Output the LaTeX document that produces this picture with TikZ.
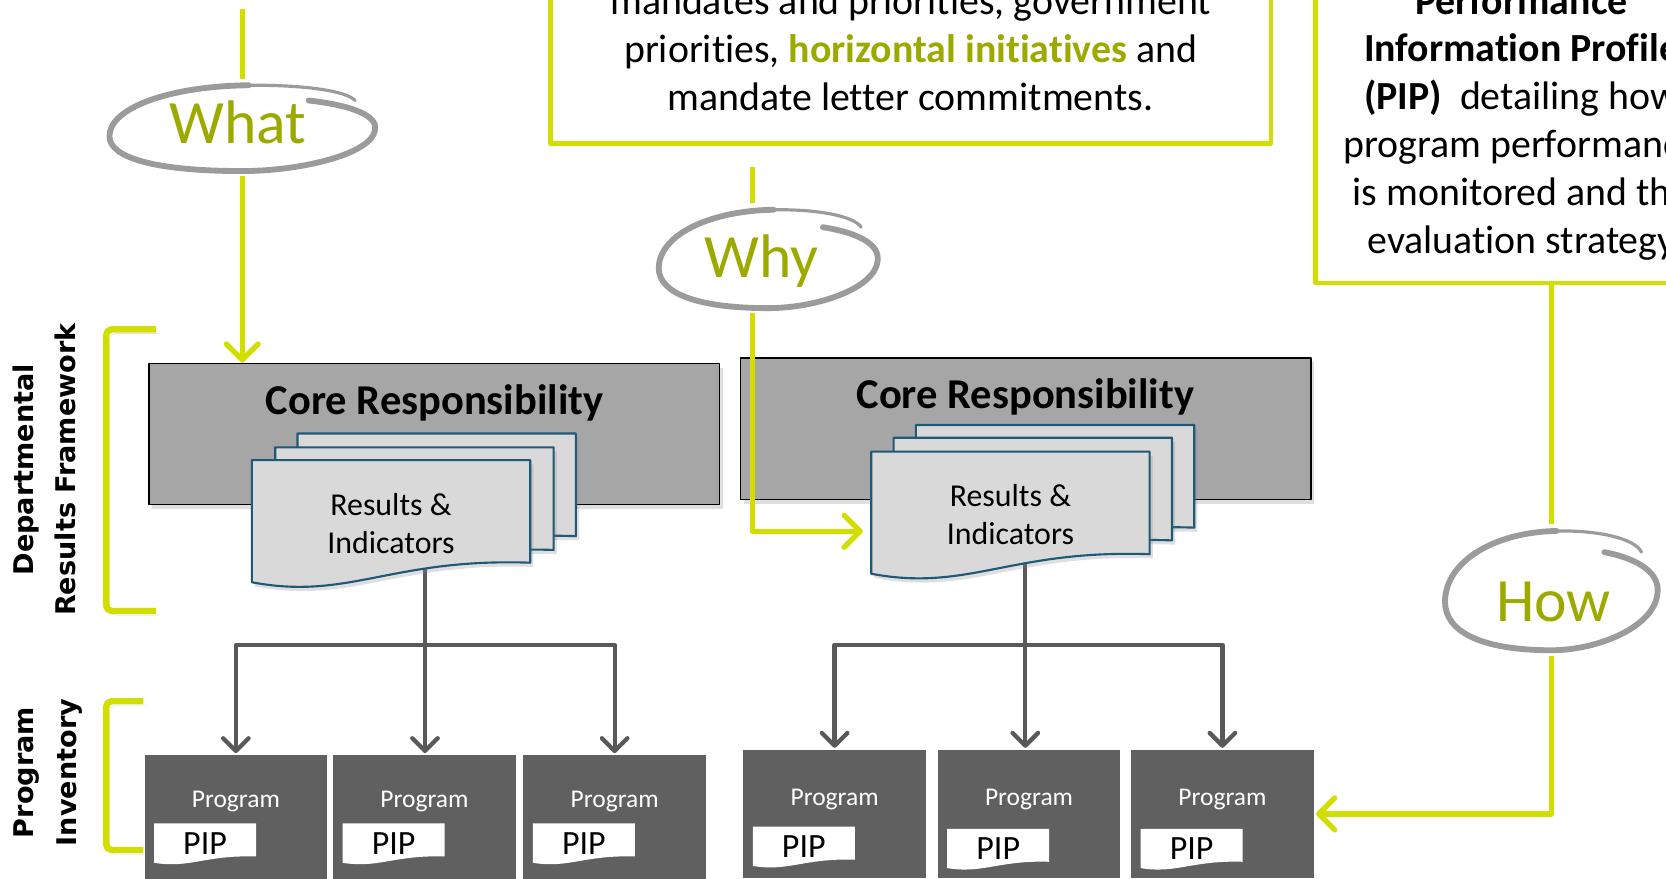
\documentclass[tikz,border=0pt]{standalone}
\usepackage{fontspec}
\setmainfont{Carlito}[Ligatures=NoCommon]
\newfontfamily\sidefont{DejaVu Sans}
\usetikzlibrary{arrows.meta,shapes.geometric,shadows}

\definecolor{drflime}{RGB}{210,222,0}
\definecolor{drfolive}{RGB}{156,170,0}
\definecolor{loopgray}{RGB}{155,155,155}
\definecolor{coregray}{RGB}{166,166,166}
\definecolor{docgray}{RGB}{217,217,217}
\definecolor{docblue}{RGB}{32,88,120}
\definecolor{flowgray}{RGB}{89,89,89}
\definecolor{proggray}{RGB}{96,96,96}

% sheet with a wavy lower edge: x, y (top left), width, height
\newcommand\docsheet[5][]{%
  \filldraw[#1] (#2,#3) -- ({#2+#4},#3) -- ({#2+#4},{#3+0.84*#5})
    .. controls ({#2+0.5*#4},{#3+0.8*#5}) and ({#2+0.35*#4},{#3+1.15*#5}) .. (#2,{#3+#5}) -- cycle;}

\begin{document}
\begin{tikzpicture}[x=1pt, y=-1pt, line join=round,
    limeline/.style={draw=drflime, line width=5pt},
    limearrow/.style={limeline, -{Straight Barb[length=15pt,width=30pt,round]}},
    grayline/.style={draw=flowgray, line width=4pt},
    grayarrow/.style={grayline, -{Straight Barb[length=12pt,width=24pt,round]}, shorten >=2pt},
    notebox/.style={draw=drflime, line width=4pt, fill=white, align=center, inner sep=0pt,
      font=\fontsize{37.5}{45}\selectfont},
    qword/.style={text=drfolive, text height=38pt, text depth=0pt, inner sep=0pt,
      font=\fontsize{58}{60}\selectfont},
    loopnode/.style={ellipse, inner sep=0pt, outer sep=5pt},
    loopline/.style={draw=loopgray, line width=5.5pt, line cap=round},
    corebox/.style={rectangle, draw=black, line width=1.5pt, fill=coregray,
      minimum width=537, minimum height=133,
      drop shadow={opacity=.25, shadow xshift=3pt, shadow yshift=-4pt}},
    coretitle/.style={font=\bfseries\fontsize{40}{44}\selectfont},
    sheet/.style={fill=docgray, draw=docblue, line width=2pt,
      drop shadow={opacity=.25, shadow xshift=3pt, shadow yshift=-4pt}},
    doctext/.style={align=center, font=\fontsize{30}{36}\selectfont},
    progbox/.style={rectangle, fill=proggray, minimum width=172, minimum height=120, inner sep=0pt},
    progtext/.style={text=white, font=\fontsize{24}{28}\selectfont},
    pipsheet/.style={fill=white, draw=none},
    piptext/.style={font=\fontsize{32}{34}\selectfont},
    sidelabel/.style={rotate=90, align=center, font=\sidefont\bfseries\fontsize{25.5}{40}\selectfont},
    bracket/.style={draw=drflime, line width=6pt, rounded corners=5pt,
      preaction={draw=black, opacity=.15, transform canvas={xshift=3pt,yshift=-4pt}}},
    handloop/.pic={
      \draw[loopline] (0.5,-0.62) .. controls (0.85,-0.5) and (1.02,-0.25) .. (1,0.05)
        .. controls (0.98,0.6) and (0.45,1) .. (0,1)
        .. controls (-0.65,1) and (-1,0.7) .. (-1,0.2)
        .. controls (-1,-0.45) and (-0.55,-0.95) .. (0.05,-0.97);
      \draw[loopline, line width=3pt] (0.05,-0.97) .. controls (0.45,-0.98) and (0.78,-0.85) .. (0.85,-0.62);
    }]

  \useasboundingbox (0,0) rectangle (1568,827);
  \clip (0,0) rectangle (1568,827);

  % boxes with notes at the top
  \node[notebox, minimum width=678, minimum height=178] (topbox) at (857,46)
    {mandates and priorities, government\\
     priorities, {\color{drfolive}\bfseries horizontal initiatives} and\\
     mandate letter commitments.};
  \node[notebox, minimum width=388, minimum height=300] (pipbox) at (1432,116)
    {{\bfseries Performance}\\
     {\bfseries Information Profile}\\
     {\bfseries (PIP)}\ \ detailing how\\
     program performance\\
     is monitored and the\\
     evaluation strategy};

  % core responsibilities
  \node[corebox] (core1) at (408.5,408.5) {};
  \node[coretitle] (core1t) at (409,379) {Core Responsibility};
  \node[corebox] (core2) at (965.5,403.5) {};
  \node[coretitle] (core2t) at (965,374) {Core Responsibility};

  % what / why lines
  \coordinate (whatstart) at (228,8);
  \coordinate (whystart) at (708,157);
  \coordinate (whyend) at (812,500);
  \node[loopnode, minimum width=250, minimum height=82] (what) at (228,120) {};
  \node[loopnode, minimum width=206, minimum height=94] (why) at (723,243) {};
  \node[loopnode, minimum width=200, minimum height=114] (how) at (1460,555) {};

  \draw[limeline] (whatstart) -- (what.north);
  \draw[limearrow] (what.south) -- (what.south |- core1.north);
  \draw[limeline] (whystart) -- (why.north -| whystart);
  \draw[limearrow] (why.south -| whystart) |- (whyend);

  % links down to the programs
  \coordinate (stem1) at (400,520);
  \coordinate (bus1) at (400,607);
  \coordinate (stem2) at (965,520);
  \coordinate (bus2) at (965,607);

  \foreach \n/\x/\y/\l/\p in {11/222/771/17/4, 12/399.5/771/17/4, 13/578.5/771/17/4,
                              21/785.5/766/14/12, 22/968.5/766/14/14, 23/1150.5/766/14/14} {
    \node[progbox] (prog\n) at (\x,\y) {};
    \node[progtext] (lbl\n) at (\x,{\y-\l}) {Program};
    \docsheet[pipsheet]{\x-77}{\y+\p}{96}{37}
    \node[piptext] (pip\n) at ({\x-29},{\y+\p+19}) {PIP};
  }

  \draw[grayline] (stem1) -- (bus1);
  \draw[grayarrow] (bus1) -| (prog11.north);
  \draw[grayarrow] (bus1) -- (bus1 |- prog12.north);
  \draw[grayarrow] (bus1) -| (prog13.north);
  \draw[grayline] (stem2) -- (bus2);
  \draw[grayarrow] (bus2) -| (prog21.north);
  \draw[grayarrow] (bus2) -- (bus2 |- prog22.north);
  \draw[grayarrow] (bus2) -| (prog23.north);

  % results and indicators stacks
  \docsheet[sheet]{280}{408}{262}{115}
  \docsheet[sheet]{259}{421}{262}{115}
  \docsheet[sheet]{237}{433}{262}{115}
  \node[doctext] (doc1) at (368,493) {Results \&\\Indicators};

  \docsheet[sheet]{862}{400}{262}{115}
  \docsheet[sheet]{841}{412}{262}{115}
  \docsheet[sheet]{820}{425}{262}{115}
  \node[doctext] (doc2) at (951,484) {Results \&\\Indicators};

  % how line
  \draw[limeline] (pipbox.south -| how.north) -- (how.north);
  \draw[limearrow, shorten >=2pt] (how.south) |- (prog23.east);

  % brackets and side labels
  \draw[bracket] (147,310) -- (100,310) -- (100,575) -- (147,575);
  \draw[bracket] (135,660) -- (100,660) -- (100,800) -- (135,800);
  \node[sidelabel] (drf) at (42,442) {Departmental\\Results Framework};
  \node[sidelabel] (inv) at (45,727) {Program\\Inventory};

  % circled words
  \pic[xscale=125, yscale=41] at (what) {handloop};
  \node[qword] (whatword) at (224,116) {What};
  \pic[xscale=103, yscale=47] at (why) {handloop};
  \node[qword] (whyword) at (717,242) {Why};
  \pic[xscale=100, yscale=57] at (how) {handloop};
  \node[qword] (howword) at (1462,566) {How};
\end{tikzpicture}
\end{document}
